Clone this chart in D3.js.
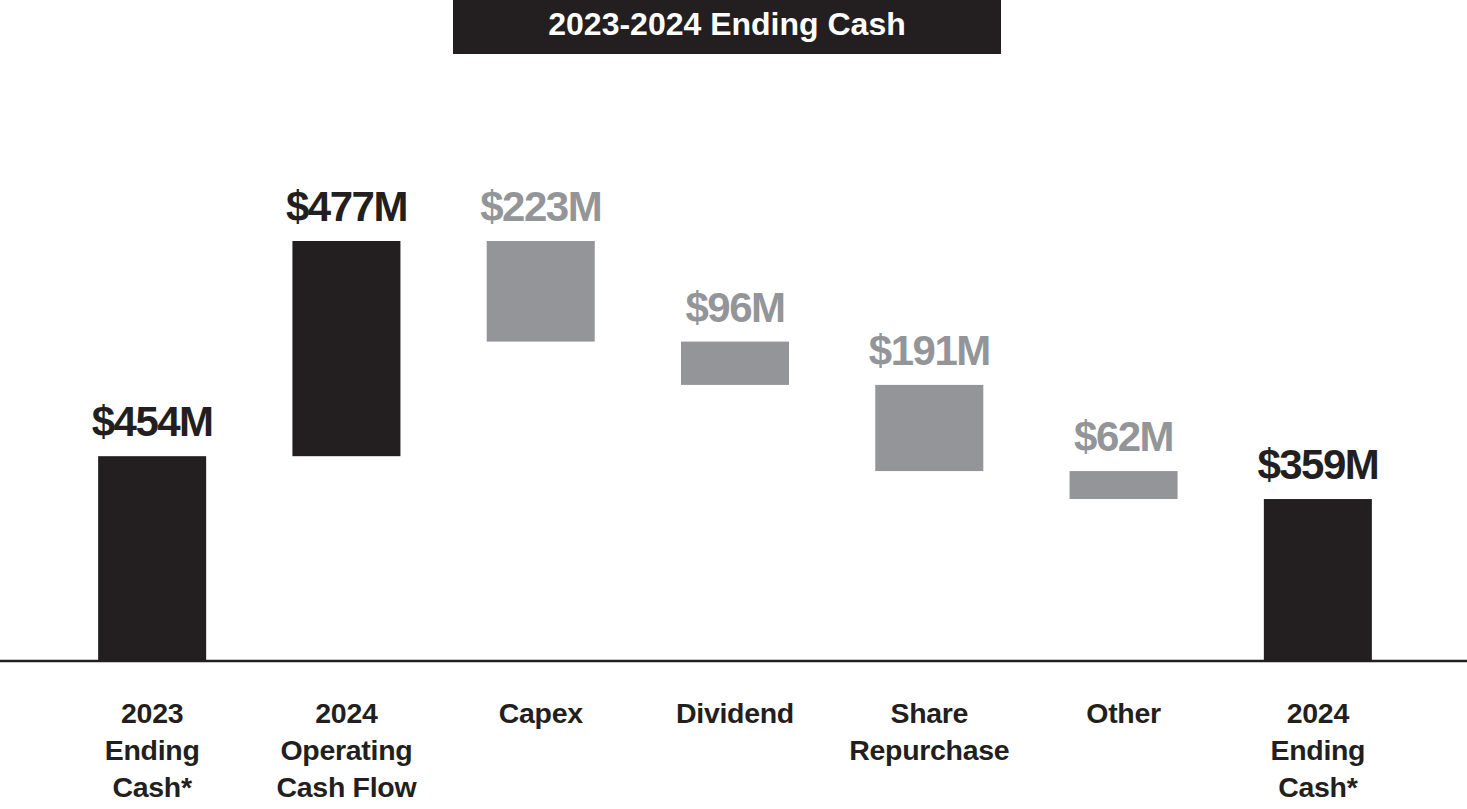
<!DOCTYPE html>
<html>
<head>
<meta charset="utf-8">
<script src="https://cdn.jsdelivr.net/npm/d3@7"></script>
<style>
  body { margin: 0; background: #fff; }
  svg { display: block; font-family: "Liberation Sans", Arial, sans-serif; }
</style>
</head>
<body>
<div id="chart"></div>
<script>
// waterfall data, $M
const categories = ["2023|Ending|Cash*", "2024|Operating|Cash Flow", "Capex", "Dividend", "Share|Repurchase", "Other", "2024|Ending|Cash*"];
const changes = [454, 477, -223, -96, -191, -62, 359];
const kinds = ["total", "up", "down", "down", "down", "down", "total"];
const valueLabels = ["$454M", "$477M", "$223M", "$96M", "$191M", "$62M", "$359M"];

const W = 1467, H = 809;
const dark = "#231f20", gray = "#939598";

const svg = d3.select("#chart").append("svg").attr("width", W).attr("height", H);

// running totals for floating bars
let running = 0;
const bars = changes.map((d, i) => {
  let lo, hi;
  if (kinds[i] == "total") { lo = 0; hi = d; running = d; }
  else { lo = running; hi = running + d; running = hi; if (lo > hi) [lo, hi] = [hi, lo]; }
  return { cat: categories[i], lo: lo, hi: hi, kind: kinds[i], label: valueLabels[i] };
});

const x = d3.scaleBand().domain(categories).range([55, 1415]).paddingInner(0.444).paddingOuter(0.222);
const y = d3.scaleLinear().domain([0, 931]).range([661, 241]);

// title box
svg.append("rect").attr("x", 453).attr("y", 0).attr("width", 548).attr("height", 54).attr("fill", dark);
svg.append("text").attr("x", 727).attr("y", 35).attr("text-anchor", "middle")
  .attr("fill", "#fff").attr("font-size", "32px").attr("font-weight", "bold")
  .text("2023-2024 Ending Cash");

svg.selectAll("rect.bar").data(bars).enter().append("rect")
  .attr("class", "bar")
  .attr("x", d => x(d.cat))
  .attr("width", x.bandwidth())
  .attr("y", d => y(d.hi))
  .attr("height", d => y(d.lo) - y(d.hi))
  .attr("fill", d => d.kind == "down" ? gray : dark);

svg.selectAll("text.val").data(bars).enter().append("text")
  .attr("class", "val")
  .attr("x", d => x(d.cat) + x.bandwidth() / 2)
  .attr("y", d => y(d.hi) - 20)
  .attr("text-anchor", "middle")
  .attr("font-size", "42px").attr("font-weight", "bold")
  .attr("letter-spacing", "-1.5px")
  .attr("fill", d => d.kind == "down" ? gray : dark)
  .text(d => d.label);

// baseline
svg.append("line").attr("x1", 0).attr("x2", W).attr("y1", y(0)).attr("y2", y(0))
  .attr("stroke", dark).attr("stroke-width", 2.5);

const labels = svg.selectAll("text.cat").data(categories).enter().append("text")
  .attr("class", "cat")
  .attr("x", d => x(d) + x.bandwidth() / 2)
  .attr("y", 723)
  .attr("text-anchor", "middle")
  .attr("font-size", "28.5px").attr("font-weight", "bold")
  .attr("letter-spacing", "-0.3px")
  .attr("fill", dark);
labels.each(function(d) {
  const lines = d.split("|");
  d3.select(this).selectAll("tspan").data(lines).enter().append("tspan")
    .attr("x", x(d) + x.bandwidth() / 2)
    .attr("dy", (l, i) => i == 0 ? 0 : 37)
    .text(l => l);
});
</script>
</body>
</html>
